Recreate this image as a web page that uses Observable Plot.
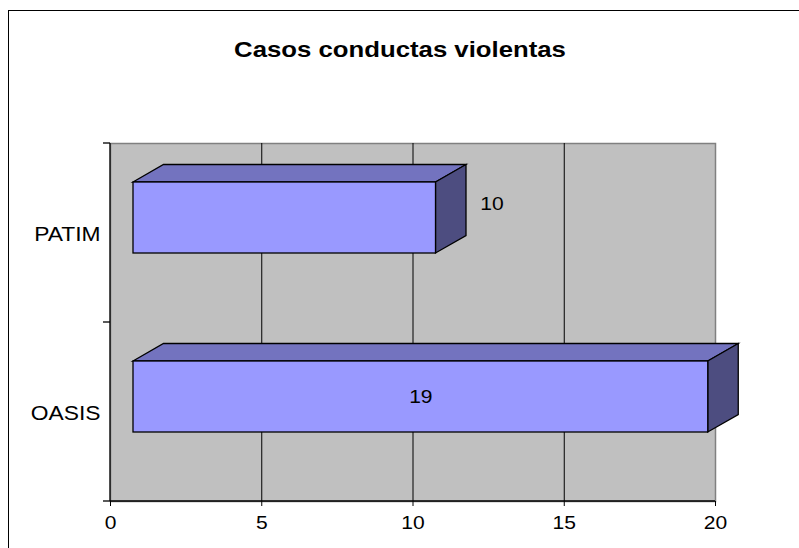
<!DOCTYPE html>
<html><head><meta charset="utf-8">
<script src="https://cdn.jsdelivr.net/npm/d3@7"></script>
<script src="https://cdn.jsdelivr.net/npm/@observablehq/plot@0.6"></script>
<style>
html,body{margin:0;padding:0;background:#fff;overflow:hidden;width:799px;height:548px;}
#chart{position:absolute;left:0;top:0;}
#border{position:absolute;left:8px;top:10px;width:900px;height:700px;border:1.4px solid #000;pointer-events:none;}
</style></head><body>
<div id="chart"></div><div id="border"></div>
<script>
const title = "Casos conductas violentas";
const categories = ["PATIM", "OASIS"];
const values = [10, 19];
const xTicks = [0, 5, 10, 15, 20];
const gridValues = [5, 10, 15];

const data = categories.map((cat, i) => ({cat, value: values[i]}));

const FONT = '"Liberation Sans", Arial, Helvetica, sans-serif';
const DX = 23, INSET_T = 39, INSET_B = 69, OX = 30.5, OY = -17.5;
const TEXT_STRETCH = 1.17;

function faces(index, scales, vals, dims) {
  const x = scales.x, y = scales.y;
  const bw = y.bandwidth ? y.bandwidth() : (dims.height - dims.marginTop - dims.marginBottom) / categories.length;
  const g = d3.create("svg:g").attr("stroke", "#000").attr("stroke-width", 1.3).attr("stroke-linejoin", "miter");
  for (const d of data) {
    const x0 = x(0) + DX, x1 = x(d.value) + DX;
    const yt = y(d.cat) + INSET_T, yb = y(d.cat) + bw - INSET_B;
    g.append("polygon").attr("fill", "#7373BF")
      .attr("points", [[x0, yt], [x0 + OX, yt + OY], [x1 + OX, yt + OY], [x1, yt]].join(" "));
    g.append("polygon").attr("fill", "#4D4D80")
      .attr("points", [[x1, yt], [x1 + OX, yt + OY], [x1 + OX, yb + OY], [x1, yb]].join(" "));
  }
  return g.node();
}

function axisLines(index, scales, vals, dims) {
  const {width, height, marginLeft, marginRight, marginTop, marginBottom} = dims;
  const y = scales.y;
  const bw = y.bandwidth ? y.bandwidth() : (height - marginTop - marginBottom) / categories.length;
  const g = d3.create("svg:g").attr("stroke", "#000").attr("stroke-width", 1.3);
  const yb = height - marginBottom;
  g.append("line").attr("x1", marginLeft).attr("x2", marginLeft).attr("y1", marginTop).attr("y2", yb);
  g.append("line").attr("x1", marginLeft).attr("x2", width - marginRight).attr("y1", yb).attr("y2", yb);
  const bounds = categories.map(c => y(c)).concat([y(categories[categories.length - 1]) + bw]);
  for (const b of bounds) {
    g.append("line").attr("x1", marginLeft - 7).attr("x2", marginLeft).attr("y1", b).attr("y2", b);
  }
  return g.node();
}

const plot = Plot.plot({
  width: 799,
  height: 548,
  marginLeft: 110,
  marginRight: 84,
  marginTop: 143,
  marginBottom: 47,
  style: {fontFamily: FONT, fontSize: "18px", background: "transparent", color: "#000"},
  x: {domain: [0, 20], label: null},
  y: {domain: categories, padding: 0, label: null},
  marks: [
    Plot.frame({fill: "#c0c0c0", stroke: "#808080", strokeWidth: 1.5}),
    Plot.ruleX(gridValues, {stroke: "#000", strokeWidth: 1}),
    axisLines,
    faces,
    Plot.rectX(data, {x: "value", y: "cat", dx: DX, insetTop: INSET_T, insetBottom: INSET_B,
      fill: "#9999FF", stroke: "#000", strokeWidth: 1.3}),
    Plot.text(data.filter(d => d.value < 15), {x: "value", y: "cat", text: d => String(d.value),
      dx: 79, dy: -29, fill: "#000", fontSize: 18}),
    Plot.text(data.filter(d => d.value >= 15), {x: d => d.value / 2, y: "cat", text: d => String(d.value),
      dx: DX, dy: -15, fill: "#000", fontSize: 18}),
    Plot.axisX({ticks: xTicks, tickSize: 5, tickPadding: 10, label: null, fontSize: 18}),
    Plot.axisY({tickSize: 0, tickPadding: 10, dy: 2, label: null, fontSize: 19.5}),
    Plot.text([title], {text: d => d, frameAnchor: "top", dx: -13, dy: -102,
      fontSize: 22, fontWeight: "bold", fill: "#000"})
  ]
});
document.getElementById("chart").appendChild(plot);

// Horizontal stretch of the text, as in the original rendering (around each text's anchor point)
d3.select(plot).selectAll("text").each(function() {
  const xa = this.getAttribute("x");
  let shift = "";
  if (xa != null && xa !== "" && !isNaN(+xa) && +xa !== 0) {
    shift = ` translate(${+xa},0)`;
    this.setAttribute("x", 0);
  }
  const t = this.getAttribute("transform") || "";
  this.setAttribute("transform", `${t}${shift} scale(${TEXT_STRETCH},1)`);
});
</script>
</body></html>
